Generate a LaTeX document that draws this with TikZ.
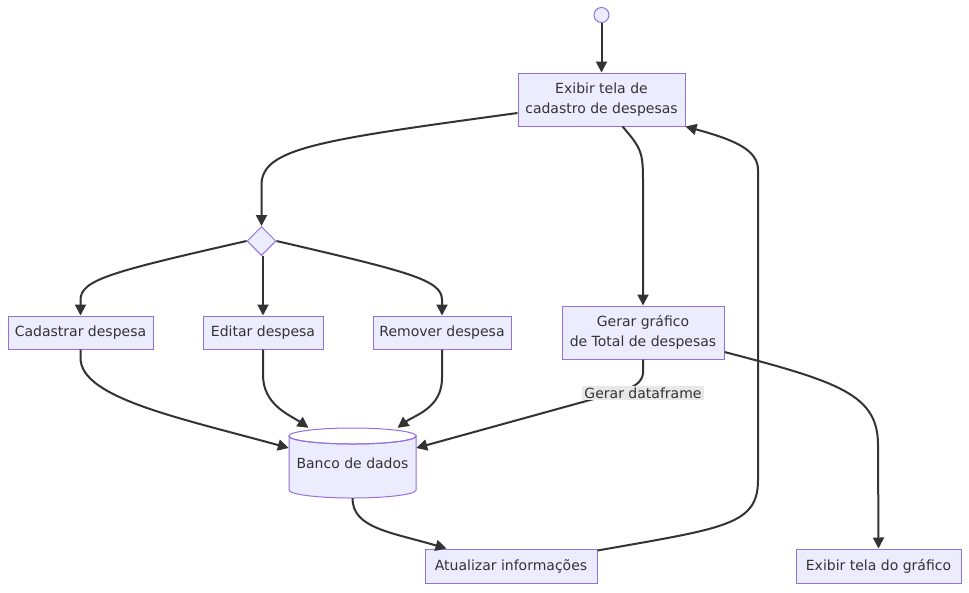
\documentclass[tikz,border=0pt]{standalone}
\usepackage{fontspec}
\setmainfont{DejaVu Sans}
\usetikzlibrary{arrows.meta,shapes.geometric}
\definecolor{nodefill}{HTML}{ECECFF}
\definecolor{nodeline}{HTML}{9370DB}
\definecolor{ink}{HTML}{333333}
\definecolor{lblbg}{HTML}{E8E8E8}
\tikzset{
  box/.style={draw=nodeline, fill=nodefill, line width=1pt, text=ink,
    align=center, inner sep=0pt, font=\fontsize{14}{20}\selectfont},
  arr/.style={draw=ink, line width=2pt, -{Triangle[length=11pt,width=11pt]}},
  edgelabel/.style={fill=lblbg, text=ink, inner sep=2pt, font=\fontsize{14}{20}\selectfont},
}
\begin{document}
\begin{tikzpicture}[x=1pt,y=-1pt]
\useasboundingbox[fill=white] (0,0) rectangle (969,592);

% nodes
\node[circle, draw=nodeline, fill=nodefill, line width=1pt, minimum size=15pt, inner sep=0pt] (st) at (601.5,15) {};
\node[box, minimum width=167pt, minimum height=53pt] (ex) at (601.5,99.5) {Exibir tela de\\cadastro de despesas};
\node[diamond, draw=nodeline, fill=nodefill, line width=1pt, minimum size=29pt, inner sep=0pt] (dm) at (261.5,241) {};
\node[box, minimum width=145pt, minimum height=33pt] (cad) at (80.5,332.5) {Cadastrar despesa};
\node[box, minimum width=120pt, minimum height=33pt] (ed) at (263,332.5) {Editar despesa};
\node[box, minimum width=138pt, minimum height=33pt] (rem) at (442,332.5) {Remover despesa};
\node[box, minimum width=162pt, minimum height=53pt] (gg) at (643,332.5) {Gerar gráfico\\de Total de despesas};
\node[box, minimum width=172pt, minimum height=34pt] (at) at (511,566) {Atualizar informações};
\node[box, minimum width=165pt, minimum height=34pt] (egr) at (878.5,566) {Exibir tela do gráfico};

% database cylinder
\path[draw=nodeline, fill=nodefill, line width=1pt]
  (289,436) -- (289,490) arc[start angle=180, end angle=0, x radius=63.5, y radius=8] -- (416,436)
  arc[start angle=0, end angle=180, x radius=63.5, y radius=8] -- cycle;
\draw[nodeline, line width=1pt] (352.5,436) ellipse [x radius=63.5, y radius=8];
\node[text=ink, font=\fontsize{14}{20}\selectfont, minimum width=127pt, minimum height=70pt, inner sep=0pt] (db) at (352.5,463) {Banco de dados};

% connectors
\draw[arr] (st) -- (ex);
\draw[arr] ([yshift=-13.5pt]ex.west) .. controls (320,140) and (261.5,148) .. (261.5,185) -- (dm.north);
\draw[arr] ([xshift=21pt]ex.south) .. controls (641,148) and (643,152) .. (643,180) -- (gg.north);
\draw[arr] (dm.west) .. controls (110,272) and (80.5,280) .. (80.5,300) -- (cad.north);
\draw[arr] (ed.north |- dm.south) -- (ed.north);
\draw[arr] (dm.east) .. controls (410,272) and (442,280) .. (442,300) -- (rem.north);
\draw[arr] (cad.south) -- (80.5,358) .. controls (80.5,398) and (180,418) .. ([yshift=15pt]db.west);
\draw[arr] (ed.south) -- (263,375) .. controls (263,405) and (290,415) .. ([xshift=-44pt]db.north);
\draw[arr] (rem.south) -- (442,378) .. controls (442,408) and (415,415) .. ([xshift=45pt]db.north);
\draw[arr] (gg.south) -- (643,372) .. controls (643,388) and (620,392) .. (590,400) -- ([yshift=15pt]db.east);
\node[edgelabel] (lbl) at (643,393) {Gerar dataframe};
\draw[arr] ([yshift=-19.5pt]gg.east) .. controls (840,382) and (878,395) .. (878,445) -- (egr.north);
\draw[arr] (db.south) .. controls (352.5,528) and (390,532) .. ([xshift=22pt]at.north west);
\draw[arr] ([yshift=-2pt]at.north east) .. controls (725,528) and (758,525) .. (758,480) -- (758,170)
  .. controls (758,150) and (735,140) .. (ex.south east);
\end{tikzpicture}
\end{document}
